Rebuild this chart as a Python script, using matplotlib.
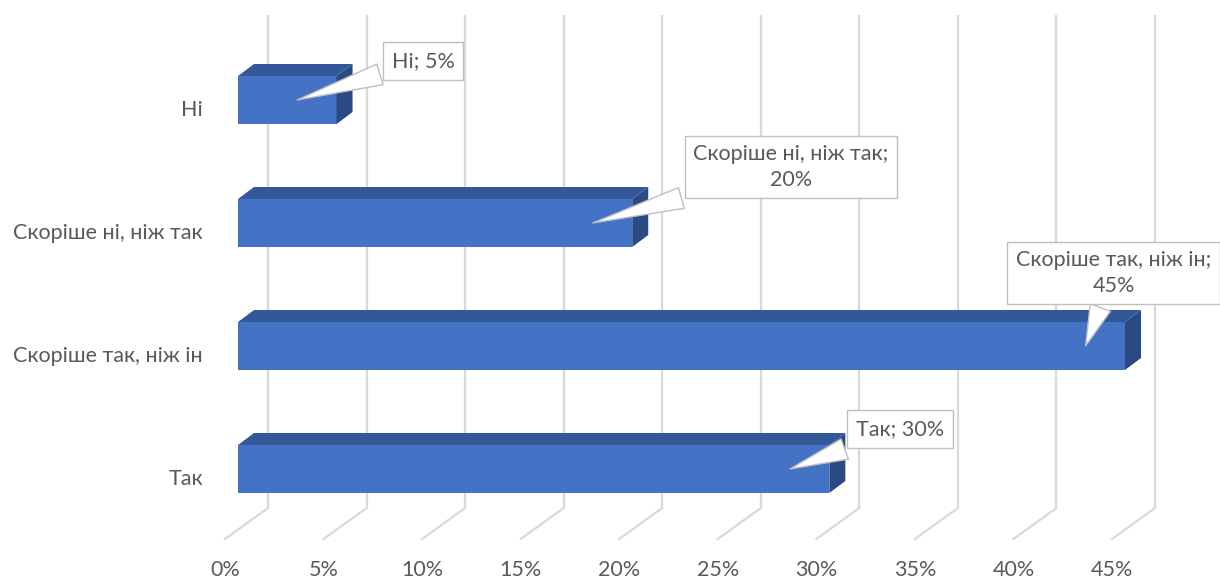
import numpy as np
import matplotlib.pyplot as plt
from matplotlib.transforms import ScaledTranslation
from matplotlib.patches import Polygon

# data
kategooriad = ['Так', 'Скоріше так, ніж ін', 'Скоріше ні, ніж так', 'Ні']
vaartused = [30, 45, 20, 5]
tikid = [0, 5, 10, 15, 20, 25, 30, 35, 40, 45]
tiki_sildid = [f'{t}%' for t in tikid]
sildid = ['Так; 30%', 'Скоріше так, ніж ін;\n45%', 'Скоріше ні, ніж так;\n20%', 'Ні; 5%']

plt.rcParams['font.family'] = ['Lato', 'DejaVu Sans']
tekst_varv = '#595959'
esi = '#4472c4'
pealne = '#335899'
kulg = '#2b4a84'
grid_varv = '#d9d9d9'
fs = 15.5

W, H = 1220, 580
fig = plt.figure(figsize=(W / 100, H / 100), dpi=100)
ax = fig.add_axes([0, 0, 1, 1])
ax.axis('off')

# front plane: 0% at x=238 px, 45% at x=1125 px; rows 123 px apart
ppp = (1125 - 238) / 45
rida = 123
ax.set_xlim(-238 / ppp, (W - 238) / ppp)
ax.set_ylim(-(H - 469) / rida, 3 + 100 / rida)


def y_px(p):
    # pixel row (from top) -> data y
    return 3 + (100 - p) / rida


def nihe(dx, dy):
    return ax.transData + ScaledTranslation(dx / 100, -dy / 100, fig.dpi_scale_trans)


# back wall grid + floor lines
for t, s in zip(tikid, tiki_sildid):
    ax.plot([t, t], [y_px(15), y_px(508)], color=grid_varv, lw=1.6,
            transform=nihe(30, 0), zorder=1, solid_capstyle='butt')
    ax.plot([t + 30 / ppp, t - 13 / ppp], [y_px(508), y_px(539)], color=grid_varv,
            lw=1.6, zorder=1)
    ax.text(t, y_px(570), s, transform=nihe(-13, 0), ha='center', va='center',
            fontsize=fs, color=tekst_varv)

# bars with fake 3d faces
y = np.arange(len(kategooriad))
h = 48 / rida
dxd = 16 / ppp
dyd = 12 / rida
ax.barh(y, vaartused, height=h, left=0, color=esi, zorder=3)
for yi, v in zip(y, vaartused):
    yt = yi + h / 2
    yb = yi - h / 2
    ax.add_patch(Polygon([(0, yt), (v, yt), (v + dxd, yt + dyd), (dxd, yt + dyd)],
                         closed=True, fc=pealne, ec='none', zorder=3))
    ax.add_patch(Polygon([(v, yb), (v, yt), (v + dxd, yt + dyd), (v + dxd, yb + dyd)],
                         closed=True, fc=kulg, ec='none', zorder=3))

# category labels
for yi, k in zip(y, kategooriad):
    ax.text(0, yi, k, transform=nihe(-35, 10), ha='right', va='center',
            fontsize=fs, color=tekst_varv)

# callouts
nihked = [(110, -40), (28, -73), (198, -56), (126, -39)]
for yi, v, s, (ox, oy) in zip(y, vaartused, sildid, nihked):
    ax.annotate(s, xy=(v - 2, yi), xytext=(ox, -oy), textcoords='offset pixels',
                ha='center', va='center', fontsize=fs, color=tekst_varv,
                linespacing=1.35, zorder=5,
                bbox=dict(boxstyle='square,pad=0.4', fc='white', ec='#bfbfbf', lw=1),
                arrowprops=dict(arrowstyle='wedge,tail_width=1.0', fc='white',
                                ec='#bfbfbf', lw=1, shrinkB=0))

fig.savefig('out.png', dpi=100)
